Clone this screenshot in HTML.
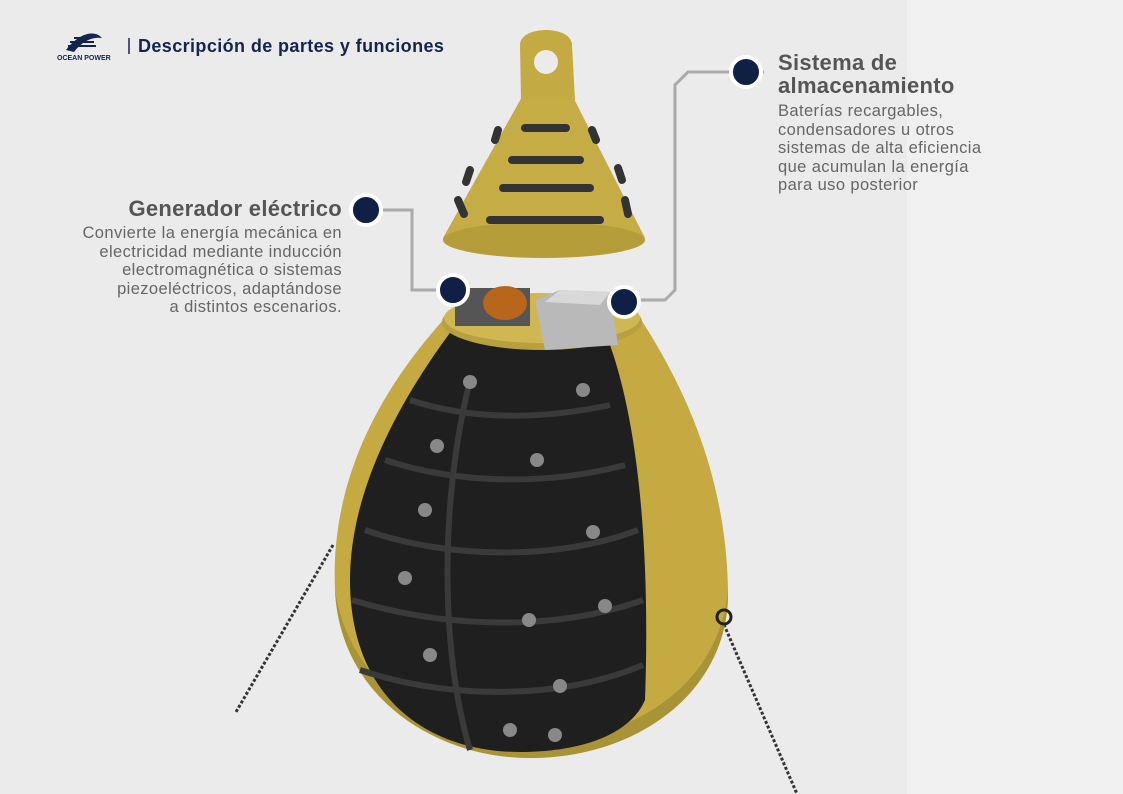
<!DOCTYPE html>
<html><head><meta charset="utf-8"><style>
body{margin:0;width:1123px;height:794px;background:#ebebeb;position:relative;overflow:hidden;font-family:"Liberation Sans",sans-serif}
.strip{position:absolute;left:907px;top:0;width:216px;height:794px;background:#f0f0f0}
.t{position:absolute;color:#555}
h2{margin:0;font-size:22px;line-height:23px;font-weight:bold;color:#555;letter-spacing:0.3px}
p{margin:0;font-size:16.5px;line-height:18.5px;color:#666;letter-spacing:0.4px}
</style></head><body>
<div class="strip"></div>
<svg width="1123" height="794" style="position:absolute;left:0;top:0">
<polyline points="764,72 688,72 675,85 675,290 665,300 625,300" fill="none" stroke="#aaa" stroke-width="3"/>
<polyline points="380,210 412,210 412,290 452,290" fill="none" stroke="#aaa" stroke-width="3"/>
<line x1="333" y1="545" x2="236" y2="712" stroke="#333" stroke-width="3" stroke-dasharray="3,2"/>
<line x1="722" y1="620" x2="797" y2="794" stroke="#333" stroke-width="3" stroke-dasharray="3,2"/>
<path d="M445,318 C380,390 330,480 335,590 C340,700 440,760 535,758 C640,756 730,690 728,590 C726,470 680,380 640,318 Z" fill="#c4aa40"/>
<path d="M335,590 C340,700 440,760 535,758 C640,756 730,690 728,590 C720,680 640,740 535,742 C440,740 350,690 335,590Z" fill="#a89436"/>
<path d="M452,330 C400,400 350,490 350,580 C350,700 430,752 520,752 C580,752 630,735 645,700 C650,560 640,430 610,345 Z" fill="#1f1f1f"/>
<g stroke="#3a3a3a" stroke-width="6" fill="none">
<path d="M410,400 C470,420 540,420 610,405"/><path d="M385,460 C460,485 550,485 625,465"/>
<path d="M365,530 C450,560 560,560 638,530"/><path d="M352,600 C450,630 560,630 643,600"/>
<path d="M360,670 C450,700 560,700 643,665"/><path d="M470,380 C440,500 440,650 470,750"/>
</g>
<g fill="#888"><circle cx="470" cy="382" r="7"/><circle cx="583" cy="390" r="7"/><circle cx="437" cy="446" r="7"/><circle cx="537" cy="460" r="7"/><circle cx="425" cy="510" r="7"/><circle cx="593" cy="532" r="7"/><circle cx="405" cy="578" r="7"/><circle cx="605" cy="606" r="7"/><circle cx="529" cy="620" r="7"/><circle cx="560" cy="686" r="7"/><circle cx="555" cy="735" r="7"/><circle cx="510" cy="730" r="7"/><circle cx="430" cy="655" r="7"/></g>
<circle cx="724" cy="617" r="7" fill="none" stroke="#222" stroke-width="3"/>
<ellipse cx="542" cy="322" rx="100" ry="28" fill="#b8a040"/>
<ellipse cx="542" cy="318" rx="98" ry="25" fill="#d0b752"/>
<rect x="455" y="288" width="75" height="38" fill="#555"/>
<ellipse cx="505" cy="303" rx="22" ry="17" fill="#b8661c"/>
<path d="M535,300 L560,290 L610,292 L618,345 L545,350 Z" fill="#b9b9b9"/>
<path d="M560,290 L610,292 L600,305 L545,302Z" fill="#d8d8d8"/>
<path d="M523,95 L572,95 L645,238 C600,262 490,262 443,238 Z" fill="#c6ac44"/>
<ellipse cx="544" cy="240" rx="101" ry="18" fill="#b59d3a"/>
<path d="M521,100 L520,45 C520,25 572,25 572,45 L575,100 Z" fill="#c4aa42"/>
<circle cx="546" cy="62" r="12" fill="#ebebeb"/>
<g stroke="#333" stroke-width="8" stroke-linecap="round" fill="none">
<path d="M525,128 L566,128"/><path d="M512,160 L580,160"/><path d="M503,188 L590,188"/><path d="M490,220 L600,220"/>
<path d="M498,130 L495,140"/><path d="M592,130 L596,140"/><path d="M470,170 L466,182"/><path d="M618,168 L622,180"/><path d="M458,200 L464,214"/><path d="M625,200 L628,214"/>
</g>
<g fill="#0f1f45" stroke="#fff" stroke-width="4">
<circle cx="746" cy="72" r="15"/><circle cx="366" cy="210" r="15"/><circle cx="453" cy="290" r="15"/><circle cx="624" cy="302" r="15"/>
</g>
<path d="M66,50 C80,32 95,30 102,38 C90,36 80,44 74,52 Z" fill="#14244d"/>
<path d="M68,46 L96,46 M70,42 L94,42 M74,38 L90,38" stroke="#14244d" stroke-width="2"/>
<line x1="129" y1="38" x2="129" y2="54" stroke="#14244d" stroke-width="1.5"/>
</svg>
<div class="t" style="left:57px;top:55px;font-size:7px;font-weight:bold;color:#14244d">OCEAN POWER</div>
<div class="t" style="left:138px;top:36px;font-size:18px;font-weight:bold;color:#14244d;letter-spacing:0.4px">Descripción de partes y funciones</div>
<div class="t" style="left:778px;top:51px"><h2>Sistema de<br>almacenamiento</h2>
<p style="margin-top:5px">Baterías recargables,<br>condensadores u otros<br>sistemas de alta eficiencia<br>que acumulan la energía<br>para uso posterior</p></div>
<div class="t" style="left:0px;top:197px;width:342px;text-align:right"><h2>Generador eléctrico</h2>
<p style="margin-top:4px">Convierte la energía mecánica en<br>electricidad mediante inducción<br>electromagnética o sistemas<br>piezoeléctricos, adaptándose<br>a distintos escenarios.</p></div>
</body></html>
